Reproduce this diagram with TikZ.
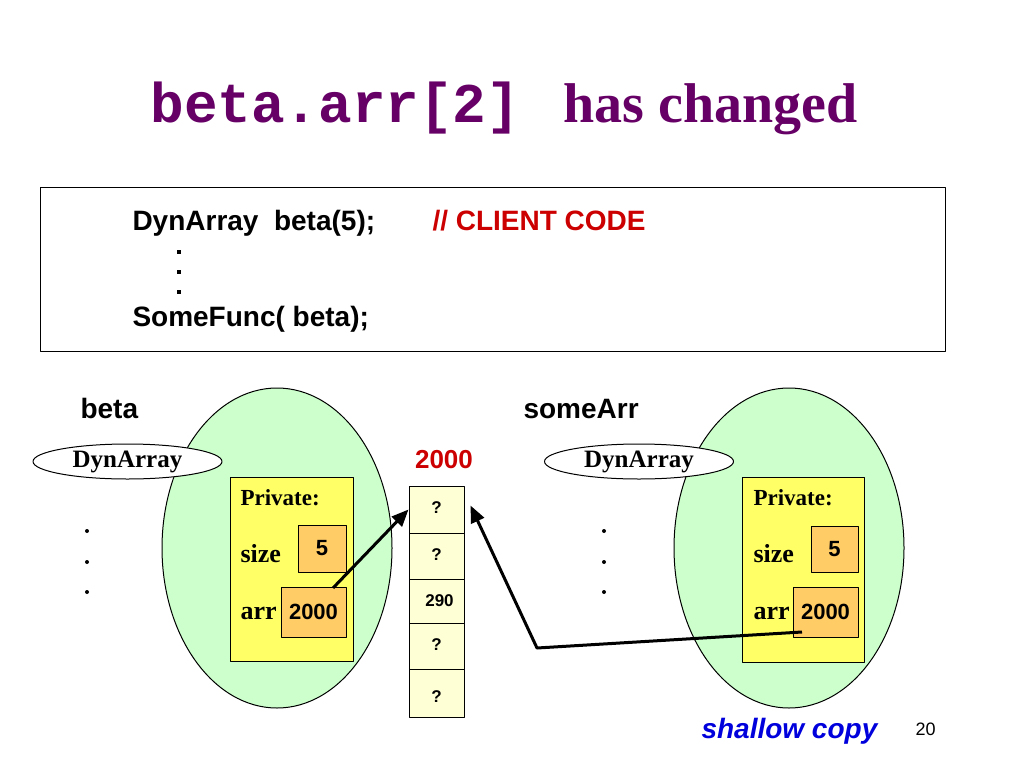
\documentclass[tikz,border=0pt]{standalone}
\usepackage{fontspec}
\setmainfont{Liberation Serif}
\setsansfont{Liberation Sans}
\setmonofont{Liberation Mono}
\usetikzlibrary{shapes.geometric,arrows.meta}
\definecolor{titlepurple}{HTML}{660066}
\definecolor{codered}{HTML}{CC0000}
\definecolor{copyblue}{HTML}{0000DD}
\definecolor{objgreen}{HTML}{CCFFCC}
\definecolor{privyellow}{HTML}{FFFF66}
\definecolor{valorange}{HTML}{FFCC66}
\definecolor{cellyellow}{HTML}{FFFFD5}
\newcommand{\fs}[1]{\fontsize{#1}{#1}\selectfont}
\begin{document}
\begin{tikzpicture}[x=1pt,y=-1pt,line width=1pt,line join=round,>={Triangle[length=17pt,width=14pt]},
	obj/.style={ellipse,draw,fill=objgreen,minimum width=230pt,minimum height=320pt,inner sep=0pt},
	tag/.style={ellipse,draw,fill=white,minimum width=189pt,minimum height=35pt,inner sep=0pt,font=\fs{25}\rmfamily\bfseries},
	priv/.style={draw,fill=privyellow,inner sep=0pt},
	valbox/.style={draw,fill=valorange,inner sep=0pt,font=\fs{22}\sffamily\bfseries},
	cell/.style={draw,fill=cellyellow,minimum width=55pt,inner sep=0pt,font=\fs{17}\sffamily\bfseries},
	lbl/.style={anchor=base west,inner sep=0pt}]
	\fill[white] (0,0) rectangle (1024,768);
	\useasboundingbox (0,0) rectangle (1024,768);
	% title
	\node[lbl,text=titlepurple,font=\fs{56}\ttfamily\bfseries] (title1) at (150,122) {beta.arr[2]};
	\node[lbl,text=titlepurple,font=\fs{56}\rmfamily\bfseries] (title2) at (563,122) {has changed};
	% client code
	\node[draw,minimum width=905pt,minimum height=164pt,inner sep=0pt] (code) at (492.5,269) {};
	\begin{scope}[every node/.style={lbl,font=\fs{28}\sffamily\bfseries}]
		\node (line1) at (132,230) {DynArray\ \ beta(5);};
		\node[text=codered] (comment) at (432,230) {// CLIENT CODE};
		\node (line2) at (132,326) {SomeFunc( beta);};
		\node (betaname) at (80,418) {beta};
		\node (somename) at (523,418) {someArr};
	\end{scope}
	\foreach \y in {252,272,292} \fill (177,\y-2) rectangle (181,\y+2);
	% beta
	\node[obj] (betaobj) at (277,548) {};
	\node[tag] (betatag) at (127.5,461.5) {DynArray};
	\foreach \y in {531,562,592} \fill (87,\y) circle (2);
	\node[priv,minimum width=123pt,minimum height=184pt] (betapriv) at (291.5,569) {};
	\node[valbox,minimum width=48pt,minimum height=47pt] (betasize) at (322,548.5) {5};
	\node[valbox,minimum width=65pt,minimum height=50pt] (betaarr) at (313.5,612) {2000};
	\node[lbl,font=\fs{23}\rmfamily\bfseries] at (240,505) {Private:};
	\node[lbl,font=\fs{26}\rmfamily\bfseries] at (240,562) {size};
	\node[lbl,font=\fs{26}\rmfamily\bfseries] at (240,619) {arr};
	% someArr
	\node[obj] (someobj) at (789,548) {};
	\node[tag] (sometag) at (639,461.5) {DynArray};
	\foreach \y in {531,562,592} \fill (604,\y) circle (2);
	\node[priv,minimum width=122pt,minimum height=185pt] (somepriv) at (803,569.5) {};
	\node[valbox,minimum width=47pt,minimum height=46pt] (somesize) at (834.5,549) {5};
	\node[valbox,minimum width=65pt,minimum height=50pt] (somearr) at (825.5,612) {2000};
	\node[lbl,font=\fs{23}\rmfamily\bfseries] at (753,505) {Private:};
	\node[lbl,font=\fs{26}\rmfamily\bfseries] at (753,562) {size};
	\node[lbl,font=\fs{26}\rmfamily\bfseries] at (753,619) {arr};
	% dynamic array
	\node[anchor=base,inner sep=0pt,text=codered,font=\fs{26}\sffamily\bfseries] (addr) at (444,468) {2000};
	\foreach \i/\t/\top/\bot/\dx/\dy in {1/?/486/533/0/-3,2/?/533/579/0/-3,3/290/579/623/6/0,4/?/623/669/0/-2,5/?/669/717/0/8}
		\node[cell,minimum height={(\bot-\top)*1pt},text depth=0pt] (m\i) at (436.5,{(\top+\bot)/2}) {\raisebox{-\dy pt}{\hspace*{\dx pt}\t}};
	% pointers
	\coordinate (p1) at (333,588); \coordinate (p2) at (802,632); \coordinate (bend) at (537,648);
	\draw[->,line width=3pt] (p1) -- (m1.west);
	\draw[->,line width=3pt] (p2) -- (bend) -- ([shift={(6,-4)}]m1.east);
	\node[lbl,text=copyblue,font=\fs{28}\sffamily\bfseries\itshape] (shallow) at (701,738) {shallow copy};
	\node[lbl,font=\fs{18}\sffamily] (page) at (915,735) {20};
\end{tikzpicture}
\end{document}
